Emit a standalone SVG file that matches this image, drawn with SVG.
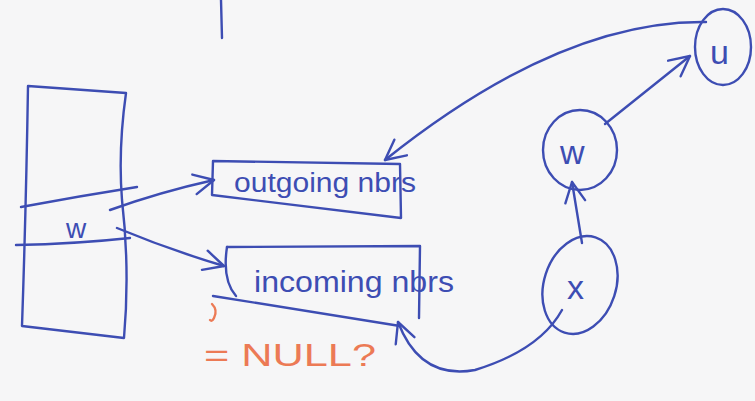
<svg xmlns="http://www.w3.org/2000/svg" width="755" height="401" viewBox="0 0 755 401">
  <defs>
    <style>
      .ink { fill: none; stroke: #3d4db3; stroke-width: 2.4; stroke-linecap: round; stroke-linejoin: round; }
      .lbl { font-family: "Liberation Sans", "DejaVu Sans", sans-serif; fill: #3d4db3; }
      .note { font-family: "Liberation Sans", "DejaVu Sans", sans-serif; fill: #ec7a55; }
      .orange { fill: none; stroke: #ec7a55; stroke-width: 2.4; stroke-linecap: round; }
    </style>
    <marker id="ah" viewBox="0 0 24 24" refX="22" refY="12" markerWidth="24" markerHeight="24" markerUnits="userSpaceOnUse" orient="auto">
      <path d="M2 2 L22 12 L2 22" fill="none" stroke="#3d4db3" stroke-width="2.4" stroke-linecap="round" stroke-linejoin="round"/>
    </marker>
  </defs>
  <rect width="755" height="401" fill="#f6f6f7"/>

  <!-- stray mark at top -->
  <path class="ink" d="M221 0 L222 38"/>

  <g id="array">
    <path class="ink" d="M28 86 L126 93 Q118 150 122 200 Q130 270 124 338 L22 326 Q26 210 28 86 Z"/>
    <path class="ink" d="M21 207 Q80 196 137 187"/>
    <path class="ink" d="M16 245 Q75 244 130 238"/>
    <text class="lbl" x="66" y="238" font-size="28">w</text>
  </g>

  <g id="outgoing">
    <path class="ink" d="M213 161 L400 164 L401 218 L212 195 Z"/>
    <text class="lbl" x="234" y="192" font-size="27" textLength="182" lengthAdjust="spacingAndGlyphs">outgoing nbrs</text>
  </g>

  <g id="incoming">
    <path class="ink" d="M227 247 L420 246 L419 318"/>
    <path class="ink" d="M227 247 Q222 280 236 296"/>
    <path class="ink" d="M213 296 L400 326"/>
    <text class="lbl" x="254" y="292" font-size="30" textLength="200" lengthAdjust="spacingAndGlyphs">incoming nbrs</text>
  </g>

  <g id="u">
    <ellipse class="ink" cx="723" cy="47" rx="28" ry="38"/>
    <text class="lbl" x="710" y="64" font-size="34">u</text>
  </g>

  <g id="w">
    <ellipse class="ink" cx="580" cy="150" rx="37" ry="40"/>
    <text class="lbl" x="560" y="164" font-size="34">w</text>
  </g>

  <g id="x">
    <ellipse class="ink" cx="580" cy="285" rx="36" ry="50" transform="rotate(18 580 285)"/>
    <text class="lbl" x="567" y="299" font-size="34">x</text>
  </g>

  <g id="connectors">
    <path class="ink" d="M110 210 Q160 192 214 180" marker-end="url(#ah)"/>
    <path class="ink" d="M117 228 Q170 250 224 266" marker-end="url(#ah)"/>
    <path class="ink" d="M605 124 L690 56" marker-end="url(#ah)"/>
    <path class="ink" d="M706 22 Q560 20 385 160" marker-end="url(#ah)"/>
    <path class="ink" d="M582 243 L572 182" marker-end="url(#ah)"/>
    <path class="ink" d="M562 310 Q540 350 475 370 Q420 380 398 322" marker-end="url(#ah)"/>
  </g>

  <g id="note">
    <path class="orange" d="M212 304 Q218 310 214 318 Q212 322 210 320"/>
    <text class="note" x="204" y="366" font-size="32" textLength="172" lengthAdjust="spacingAndGlyphs">= NULL?</text>
  </g>
</svg>
